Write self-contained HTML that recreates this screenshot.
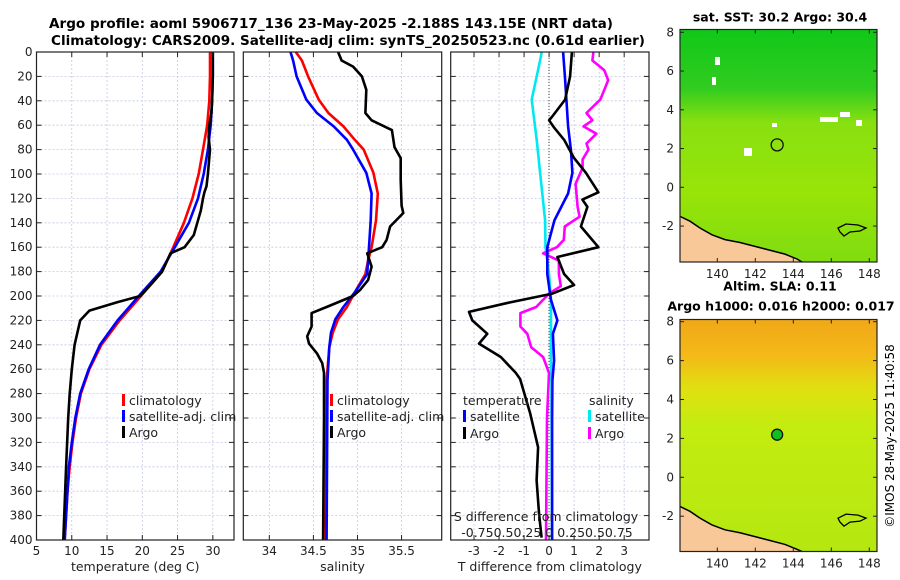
<!DOCTYPE html>
<html><head><meta charset="utf-8"><style>
html,body{margin:0;padding:0;background:#fff;}
svg{display:block;font-family:"DejaVu Sans","Liberation Sans",sans-serif;}
</style></head><body>
<svg id="fig" width="900" height="580" viewBox="0 0 900 580" xmlns="http://www.w3.org/2000/svg">
<defs>
<linearGradient id="sstg" x1="0" y1="0" x2="0" y2="1">
<stop offset="0" stop-color="#10c818"/><stop offset="0.25" stop-color="#30cc20"/><stop offset="0.4" stop-color="#88e010"/><stop offset="0.7" stop-color="#98e408"/><stop offset="1" stop-color="#80dc10"/>
</linearGradient>
<linearGradient id="slag" x1="0" y1="0" x2="0" y2="1">
<stop offset="0" stop-color="#f0a818"/><stop offset="0.15" stop-color="#f4b818"/><stop offset="0.3" stop-color="#e0e010"/><stop offset="0.45" stop-color="#c4ec10"/><stop offset="1" stop-color="#b4e810"/>
</linearGradient>
</defs>
<g font-weight="bold" font-size="13" text-anchor="middle">
<text x="331" y="28" textLength="564" lengthAdjust="spacingAndGlyphs">Argo profile: aoml 5906717_136 23-May-2025 -2.188S 143.15E (NRT data)</text>
<text x="348" y="45" textLength="594" lengthAdjust="spacingAndGlyphs">Climatology: CARS2009. Satellite-adj clim: synTS_20250523.nc (0.61d earlier)</text>
</g>
<g id="panels"></g>
<g id="maps"></g>
<text font-size="12" text-anchor="middle" transform="translate(894,436) rotate(-90)">©IMOS 28-May-2025 11:40:58</text>
</svg>
<script>
// ---------- data ----------
const tempClimDepth=[0,20,40,60,80,100,120,140,160,180,200,220,240,260,280,300,320,340,360,380,400];
const tempClim=[29.6,29.6,29.5,29.2,28.6,28.0,27.1,25.9,24.4,22.8,19.8,16.8,14.2,12.5,11.3,10.6,10.1,9.7,9.4,9.2,9.0];
const tempSat=[30.0,30.0,29.9,29.7,29.3,28.7,27.9,26.6,24.6,22.6,19.5,16.5,14.0,12.4,11.2,10.5,10.0,9.6,9.4,9.2,9.0];
const tempArgoDepth=[0,20,40,50,60,70,80,100,110,115,120,130,140,150,160,165,180,190,200,205,212,220,230,240,260,280,300,340,400];
const tempArgo=[30.0,30.0,29.9,29.8,29.5,29.4,29.6,29.3,29.1,28.8,28.6,28.3,27.8,27.3,26.0,24.0,22.8,21.3,19.7,16.5,12.5,11.2,10.8,10.4,10.0,9.7,9.5,9.2,8.8];

const salClimDepth=[0,7,20,39,50,61,72,80,99,116,138,160,171,182,197,209,219,230,242,269,400];
const salClim=[34.30,34.37,34.44,34.56,34.67,34.84,34.97,35.07,35.18,35.23,35.21,35.16,35.12,35.09,34.97,34.88,34.78,34.72,34.68,34.65,34.64];
const salSat=[34.24,34.27,34.31,34.42,34.54,34.73,34.88,34.95,35.10,35.16,35.15,35.13,35.12,35.11,34.97,34.84,34.75,34.70,34.68,34.66,34.65];
const salArgoDepth=[0,7,12,20,31,50,56,64,78,87,105,126,132,143,154,160,165,176,187,195,200,209,214,225,233,239,247,255,263,300,400];
const salArgo=[34.78,34.82,34.95,35.05,35.10,35.09,35.16,35.39,35.42,35.49,35.49,35.50,35.52,35.37,35.33,35.28,35.11,35.16,35.12,35.03,34.95,34.65,34.48,34.48,34.43,34.45,34.54,34.60,34.62,34.62,34.61];

const dtSatDepth=[0,20,39,61,80,99,116,138,160,182,203,220,231,253,269,300,400];
const dtSat=[0.56,0.63,0.69,0.76,0.87,0.93,0.76,0.21,-0.07,-0.07,0.07,0.33,0.15,0.2,0.13,0.12,0.12];
const dtArgoDepth=[0,20,39,52,56,62,72,87,99,115,121,127,143,160,168,182,191,198,206,213,220,231,239,250,263,268,296,324,351,379,398];
const dtArgo=[0.91,0.84,0.64,0.16,0.0,0.2,0.6,1.0,1.47,1.97,1.33,1.53,1.27,1.97,0.33,0.6,1.0,0.13,-1.73,-3.2,-3.07,-2.47,-2.8,-1.93,-1.33,-1.16,-0.76,-0.44,-0.5,-0.4,-0.3];
const dsSatDepth=[0,7,39,72,99,138,160,182,203,250,300,400];
const dsSat=[-0.074,-0.09,-0.175,-0.125,-0.09,-0.04,-0.035,0.0,0.02,0.02,0.025,0.03];
const dsArgoDepth=[0,7,15,23,31,39,50,56,61,67,75,80,88,95,108,127,135,143,154,160,165,171,182,192,198,209,214,225,231,242,250,263,300,400];
const dsArgo=[0.45,0.44,0.56,0.6,0.56,0.52,0.38,0.44,0.35,0.48,0.38,0.40,0.34,0.34,0.27,0.29,0.31,0.16,0.15,0.08,-0.06,0.1,0.1,0.12,0.0,-0.13,-0.29,-0.29,-0.22,-0.18,-0.06,0.0,-0.02,-0.03];

const depthTicks=[0,20,40,60,80,100,120,140,160,180,200,220,240,260,280,300,320,340,360,380,400];
const tempTicks=[5,10,15,20,25,30];
const salTicks=[34,34.5,35,35.5];
const dtTicks=[-3,-2,-1,0,1,2,3];
const sstLonTicks=[140,142,144,146,148];
const sstLatTicks=[8,6,4,2,0,-2];

const NS='http://www.w3.org/2000/svg';
function mk(tag,attrs,parent){const e=document.createElementNS(NS,tag);for(const k in attrs)e.setAttribute(k,attrs[k]);parent.appendChild(e);return e;}
const panels=document.getElementById('panels');
const Y0=52,Y1=540;
function yScale(d){return Y0+(d/400)*(Y1-Y0);}

function panel(name,x0,x1,xmin,xmax,xticks,xlabel){
  const g=mk('g',{},panels);
  
  
  const xs=v=>x0+(v-xmin)/(xmax-xmin)*(x1-x0);
  // grid
  xticks.forEach(t=>{const l=mk('line',{x1:xs(t),x2:xs(t),y1:Y0,y2:Y1,stroke:'#c4c8e4','stroke-width':0.8,'stroke-dasharray':'2,2'},g);
    
    });
  depthTicks.forEach(d=>{const l=mk('line',{x1:x0,x2:x1,y1:yScale(d),y2:yScale(d),stroke:'#c4c8e4','stroke-width':0.8,'stroke-dasharray':'2,2'},g);
    
    });
  return {g,xs};
}
function frame(p,x0,x1,xticks,tickLabels,xlabel,showY){
  const g=p.g;
  xticks.forEach((t,i)=>{const x=p.xs(t);
    mk('line',{x1:x,x2:x,y1:Y1,y2:Y1-5,stroke:'#222'},g);mk('line',{x1:x,x2:x,y1:Y0,y2:Y0+5,stroke:'#222'},g);
    if(tickLabels){const tx=mk('text',{x:x,y:Y1+15,'font-size':12,'text-anchor':'middle',fill:'#222'},g);tx.textContent=tickLabels[i];
      
      }
  });
  depthTicks.forEach(d=>{const y=yScale(d);
    mk('line',{x1:x0,x2:x0+5,y1:y,y2:y,stroke:'#222'},g);mk('line',{x1:x1-5,x2:x1,y1:y,y2:y,stroke:'#222'},g);
    if(showY){const tx=mk('text',{x:x0-4,y:y+4,'font-size':12,'text-anchor':'end',fill:'#222'},g);tx.textContent=d;
      
      }
  });
  mk('rect',{x:x0,y:Y0,width:x1-x0,height:Y1-Y0,fill:'none',stroke:'#222','stroke-width':1.2},g);
  if(xlabel){const t=mk('text',{x:(x0+x1)/2,y:571,'font-size':12.5,'text-anchor':'middle',fill:'#222'},g);t.textContent=xlabel;
    
    }
}
function line(p,xs,vals,depths,color,name){
  const pts=vals.map((v,i)=>xs(v).toFixed(1)+','+yScale(depths[i]).toFixed(1)).join(' ');
  const e=mk('polyline',{points:pts,fill:'none',stroke:color,'stroke-width':2.6,'stroke-linejoin':'round'},p.g);
  
  
}
function legend(g,x,y,color,label){
  mk('rect',{x:x,y:y-10,width:3,height:12,fill:color},g);
  const t=mk('text',{x:x+7,y:y+1,'font-size':12.5,fill:'#222'},g);t.textContent=label;
  
  
}

// Panel 1 temperature
const p1=panel('temperature-panel',36.5,234,5,33.0,tempTicks);
line(p1,p1.xs,tempClim,tempClimDepth,'#ff0000','temp-climatology-line');
line(p1,p1.xs,tempSat,tempClimDepth,'#0000ff','temp-satellite-line');
line(p1,p1.xs,tempArgo,tempArgoDepth,'#000000','temp-argo-line');
frame(p1,36.5,234,tempTicks,tempTicks.map(String),'temperature (deg C)',true);
legend(p1.g,122,404,'#ff0000','climatology');
legend(p1.g,122,420,'#0000ff','satellite-adj. clim');
legend(p1.g,122,436,'#000000','Argo');

// Panel 2 salinity
const p2=panel('salinity-panel',243.3,441.7,33.705,35.955,salTicks);
line(p2,p2.xs,salClim,salClimDepth,'#ff0000','sal-climatology-line');
line(p2,p2.xs,salSat,salClimDepth,'#0000ff','sal-satellite-line');
line(p2,p2.xs,salArgo,salArgoDepth,'#000000','sal-argo-line');
frame(p2,243.3,441.7,salTicks,salTicks.map(String),'salinity',false);
legend(p2.g,330,404,'#ff0000','climatology');
legend(p2.g,330,420,'#0000ff','satellite-adj. clim');
legend(p2.g,330,436,'#000000','Argo');

// Panel 3 differences
const p3=panel('difference-panel',450.7,649,-3.932,3.992,dtTicks);
const sxs=v=>549+v*98.7;
mk('line',{x1:549,x2:549,y1:Y0,y2:Y1,stroke:'#444','stroke-width':1,'stroke-dasharray':'1,2'},p3.g);
line(p3,sxs,dsSat,dsSatDepth,'#00e8f0','sdiff-satellite-line');
line(p3,sxs,dsArgo,dsArgoDepth,'#ff00ff','sdiff-argo-line');
line(p3,p3.xs,dtSat,dtSatDepth,'#0000ff','tdiff-satellite-line');
line(p3,p3.xs,dtArgo,dtArgoDepth,'#000000','tdiff-argo-line');
frame(p3,450.7,649,dtTicks,dtTicks.map(String),'T difference from climatology',false);
(function(){const g=p3.g;
 let t=mk('text',{x:463,y:405,'font-size':12.5,fill:'#222'},g);t.textContent='temperature';
 
 
 t=mk('text',{x:589,y:405,'font-size':12.5,fill:'#222'},g);t.textContent='salinity';
 
 
 legend(g,463,420,'#0000ff','satellite');
 legend(g,463,437,'#000000','Argo');
 legend(g,588,420,'#00e8f0','satellite');
 legend(g,588,437,'#ff00ff','Argo');
 t=mk('text',{x:546,y:521,'font-size':12.5,'text-anchor':'middle',fill:'#222'},g);t.textContent='S difference from climatology';
 
 
 t=mk('text',{x:547,y:537,'font-size':12.5,'text-anchor':'middle',fill:'#222'},g);t.textContent='-0.750.50.25 0  0.250.50.75';
 
 
})();

// ---------- maps ----------
const maps=document.getElementById('maps');
function map(name,top,bottom,lat8y,lat0y,grad,title1,title2,circleFill){
  const g=mk('g',{},maps);
  
  
  const L=680,R=877;
  const lon=v=>717.3+(v-140)*19.0;
  const lat=v=>lat0y+(lat8y-lat0y)*v/8;
  mk('rect',{x:L,y:top,width:R-L,height:bottom-top,fill:'url(#'+grad+')'},g);
  // land
  const coast=[[680,lat(-1.5)],[690,lat(-1.75)],[700,lat(-2.1)],[712,lat(-2.45)],[725,lat(-2.7)],[740,lat(-2.85)],[755,lat(-3.05)],[770,lat(-3.25)],[785,lat(-3.45)],[797,lat(-3.7)],[802,bottom]];
  mk('polygon',{points:coast.map(p=>p.join(',')).join(' ')+' '+L+','+bottom,fill:'#f8c898'},g);
  mk('polyline',{points:coast.map(p=>p.join(',')).join(' '),fill:'none',stroke:'#000','stroke-width':1.5},g);
  mk('path',{d:`M838,${lat(-2.1)} l8,-4 l12,1 l8,3 l-6,3 l-10,1 l-6,4 l-4,-4 z`,fill:'none',stroke:'#000','stroke-width':1.3},g);
  const c=mk('circle',{cx:lon(143.15),cy:lat(2.19),r:circleFill?5.5:6,fill:circleFill||'none',stroke:'#111','stroke-width':1.3},g);
  
  
  mk('rect',{x:L,y:top,width:R-L,height:bottom-top,fill:'none',stroke:'#222','stroke-width':1.2},g);
  sstLonTicks.forEach(v=>{const x=lon(v);mk('line',{x1:x,x2:x,y1:bottom,y2:bottom-4,stroke:'#222'},g);mk('line',{x1:x,x2:x,y1:top,y2:top+4,stroke:'#222'},g);
    const t=mk('text',{x:x,y:bottom+16,'font-size':12,'text-anchor':'middle',fill:'#222'},g);t.textContent=v;
    
    });
  sstLatTicks.forEach(v=>{const y=lat(v);mk('line',{x1:L,x2:L+4,y1:y,y2:y,stroke:'#222'},g);mk('line',{x1:R-4,x2:R,y1:y,y2:y,stroke:'#222'},g);
    const t=mk('text',{x:L-6,y:y+4,'font-size':12,'text-anchor':'end',fill:'#222'},g);t.textContent=v;
    
    });
  let t=mk('text',{x:780,y:title2?top-29:top-8,'font-size':12.5,'font-weight':'bold','text-anchor':'middle'},g);t.textContent=title1;
  
  
  if(title2){t=mk('text',{x:781,y:top-9,'font-size':12.5,'font-weight':'bold','text-anchor':'middle'},g);t.textContent=title2;
    
    }
  return {g,lon,lat};
}
const m1=map('sst-map',29.5,262,32.3,187.3,'sstg','sat. SST: 30.2 Argo: 30.4',null,null);
[[715,57,5,8],[712,77,4,8],[744,148,8,8],[820,117,18,5],[840,112,10,5],[856,120,6,6],[772,123,5,4]].forEach(r=>mk('rect',{x:r[0],y:r[1],width:r[2],height:r[3],fill:'#fff'},m1.g));
const m2=map('sla-map',319.5,551.5,321.7,477.3,'slag','Altim. SLA: 0.11','Argo h1000: 0.016 h2000: 0.017','#10c020');
</script>
</body></html>
